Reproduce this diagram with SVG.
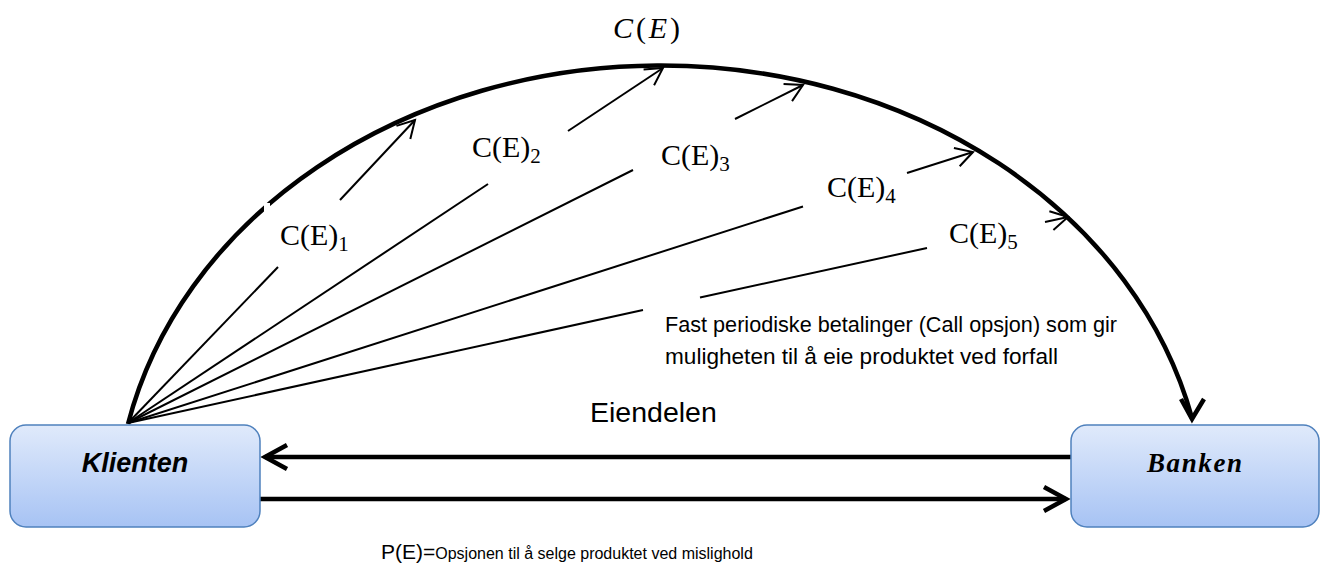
<svg xmlns="http://www.w3.org/2000/svg" width="1328" height="575" viewBox="0 0 1328 575">
<style>
.thin{fill:none;stroke:#000;stroke-width:2}
.thick{fill:none;stroke:#000;stroke-width:4.5}
.box{stroke:#4f81bd;stroke-width:1.5;fill:url(#g)}
.lbl{font-family:"Liberation Serif",serif;font-size:30px;fill:#000}
.sub{font-size:21px}
.cal{font-family:"Liberation Sans",sans-serif;fill:#000}
</style>
<defs>
<linearGradient id="g" x1="0" y1="0" x2="0" y2="1">
<stop offset="0" stop-color="#e0eafb"/>
<stop offset="1" stop-color="#a7c3f4"/>
</linearGradient>
<marker id="ah" markerUnits="userSpaceOnUse" markerWidth="40" markerHeight="40" viewBox="-20 -20 40 40" refX="0" refY="0" orient="auto">
<path d="M -17 -9.5 L 0 0 L -17 9.5" fill="none" stroke="#000" stroke-width="2"/>
</marker>
<marker id="ahb" markerUnits="userSpaceOnUse" markerWidth="60" markerHeight="60" viewBox="-30 -30 60 60" refX="0" refY="0" orient="auto">
<path d="M -22 -12 L 0 0 L -22 12" fill="none" stroke="#000" stroke-width="4.5"/>
</marker>
</defs>
<g id="connectors">
<path class="thick" d="M 128 424 A 545 454 0 0 1 1192 418"/>
<polyline class="thick" points="1181,399 1192,419 1204,399"/>
<rect x="264" y="203" width="6" height="9" fill="#fff"/>
<line class="thin" x1="128" y1="423" x2="278" y2="267"/>
<line class="thin" x1="340" y1="200" x2="415" y2="120" marker-end="url(#ah)"/>
<line class="thin" x1="128" y1="423" x2="488" y2="184"/>
<line class="thin" x1="568" y1="131" x2="663" y2="68" marker-end="url(#ah)"/>
<line class="thin" x1="128" y1="423" x2="633" y2="170"/>
<line class="thin" x1="735" y1="119" x2="803" y2="85" marker-end="url(#ah)"/>
<line class="thin" x1="128" y1="423" x2="803" y2="206.5"/>
<line class="thin" x1="907" y1="173" x2="973" y2="152" marker-end="url(#ah)"/>
<line class="thin" x1="128" y1="423" x2="643" y2="310"/>
<line class="thin" x1="700" y1="297.5" x2="927" y2="248"/>
<line class="thin" x1="1045" y1="222" x2="1068" y2="217" marker-end="url(#ah)"/>
<line class="thick" x1="1071" y1="457" x2="265" y2="457" marker-end="url(#ahb)"/>
<line class="thick" x1="260" y1="499" x2="1066" y2="499" marker-end="url(#ahb)"/>
</g>
<g id="klienten">
<rect class="box" x="10" y="425" width="250" height="102" rx="16"/>
<text x="135" y="472" text-anchor="middle" font-family="Liberation Sans, sans-serif" font-size="27" font-weight="bold" font-style="italic">Klienten</text>
</g>
<g id="banken">
<rect class="box" x="1071" y="425" width="248" height="102" rx="16"/>
<text x="1147" y="472" font-family="Liberation Serif, serif" font-size="27" font-weight="bold" font-style="italic" textLength="95" lengthAdjust="spacing">Banken</text>
</g>
<g id="labels">
<text class="lbl" x="613" y="38" textLength="67" lengthAdjust="spacing"><tspan font-style="italic">C</tspan>(<tspan font-style="italic">E</tspan>)</text>
<text class="lbl" x="280" y="245">C(E)<tspan class="sub" dy="6">1</tspan></text>
<text class="lbl" x="472" y="157">C(E)<tspan class="sub" dy="6">2</tspan></text>
<text class="lbl" x="661" y="165">C(E)<tspan class="sub" dy="6">3</tspan></text>
<text class="lbl" x="827" y="197">C(E)<tspan class="sub" dy="6">4</tspan></text>
<text class="lbl" x="949" y="243">C(E)<tspan class="sub" dy="6">5</tspan></text>
<text class="cal" x="665" y="332" font-size="21.5" textLength="452" lengthAdjust="spacingAndGlyphs">Fast periodiske betalinger (Call opsjon) som gir</text>
<text class="cal" x="665" y="364" font-size="21.5" textLength="393" lengthAdjust="spacingAndGlyphs">muligheten til å eie produktet ved forfall</text>
<text class="cal" x="590" y="422" font-size="28.5">Eiendelen</text>
<text class="cal" x="381" y="559" font-size="21">P(E)=<tspan font-size="16">Opsjonen til å selge produktet ved mislighold</tspan></text>
</g>
</svg>
